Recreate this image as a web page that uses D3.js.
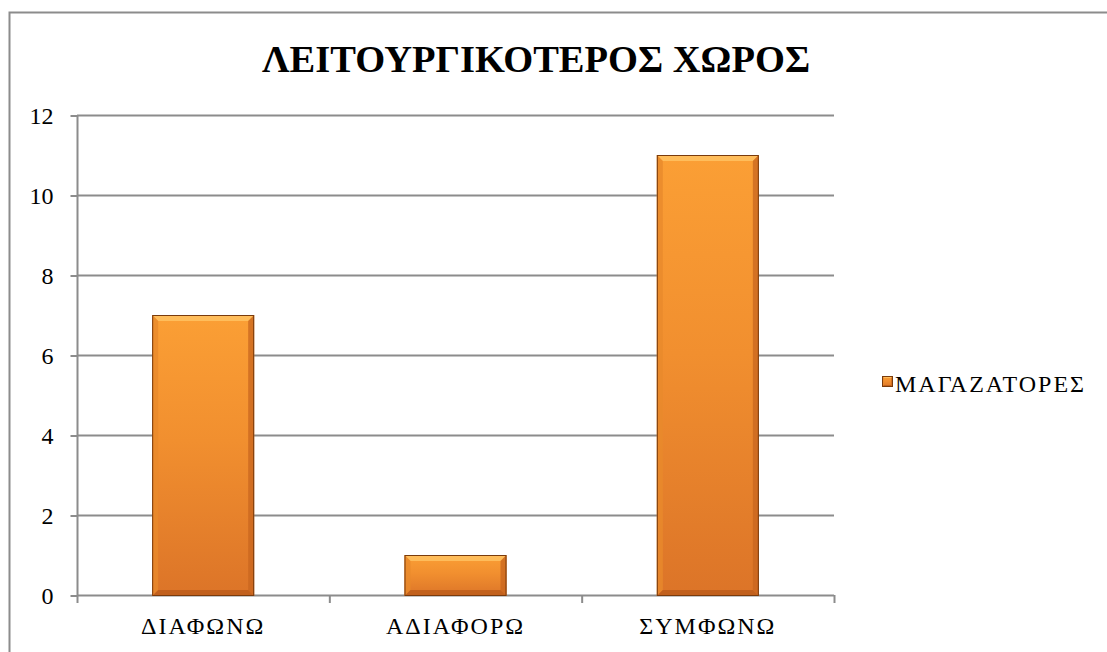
<!DOCTYPE html>
<html>
<head>
<meta charset="utf-8">
<script src="https://cdn.jsdelivr.net/npm/d3@7"></script>
<style>
  html, body { margin: 0; padding: 0; background: #fff; }
  svg { display: block; }
</style>
</head>
<body>
<svg id="chart" width="1107" height="652"></svg>
<script>
// Chart data
const categories = ["ΔΙΑΦΩΝΩ", "ΑΔΙΑΦΟΡΩ", "ΣΥΜΦΩΝΩ"];
const seriesName = "ΜΑΓΑΖΑΤΟΡΕΣ";
const seriesValues = [7, 1, 11];
const yTicks = [0, 2, 4, 6, 8, 10, 12];
const chartTitle = "ΛΕΙΤΟΥΡΓΙΚΟΤΕΡΟΣ ΧΩΡΟΣ";

const SERIF = "'Liberation Serif', 'Times New Roman', 'DejaVu Serif', serif";

const svg = d3.select("#chart");
const W = 1107, H = 652;

// Outer chart frame
svg.append("rect")
  .attr("x", 9.5).attr("y", 12.5)
  .attr("width", W + 20).attr("height", H + 20)
  .attr("fill", "#fff")
  .attr("stroke", "#8c8c8c").attr("stroke-width", 2);

// Plot area
const plot = { left: 77, right: 834, top: 115, bottom: 595 };

const xOuter = d3.scaleBand()
  .domain(categories)
  .range([plot.left, plot.right]);

const y = d3.scaleLinear().domain([0, 12]).range([plot.bottom, plot.top]);

// Gradient definitions
const defs = svg.append("defs");
const grad = defs.append("linearGradient")
  .attr("id", "barFill").attr("x1", 0).attr("y1", 0).attr("x2", 0).attr("y2", 1);
grad.append("stop").attr("offset", "0%").attr("stop-color", "#fb9f35");
grad.append("stop").attr("offset", "45%").attr("stop-color", "#f18f2f");
grad.append("stop").attr("offset", "100%").attr("stop-color", "#dc7428");

// Horizontal gridlines
svg.append("g")
  .selectAll("line")
  .data(yTicks.filter(d => d !== 0))
  .join("line")
  .attr("x1", plot.left).attr("x2", plot.right)
  .attr("y1", d => y(d) + 0.5).attr("y2", d => y(d) + 0.5)
  .attr("stroke", "#8c8c8c").attr("stroke-width", 2);

// Y axis
const yAxis = d3.axisLeft(y).tickValues(yTicks).tickSize(7).tickPadding(17).tickFormat(d3.format("d"));
const gy = svg.append("g").attr("transform", `translate(${plot.left + 0.5},0)`).call(yAxis);
gy.attr("font-family", null).attr("font-size", null);
gy.select(".domain").attr("stroke", "#8c8c8c").attr("stroke-width", 2).attr("d", `M0,${plot.top}V${plot.bottom}`);
gy.selectAll(".tick line").attr("stroke", "#8c8c8c").attr("stroke-width", 2).attr("transform", "translate(0,0.5)");
gy.selectAll(".tick text")
  .style("font-family", SERIF)
  .style("font-size", "24px")
  .attr("fill", "#000")
  .attr("dy", "0.35em");

// X axis line and category boundary ticks
svg.append("line")
  .attr("x1", plot.left).attr("x2", plot.right)
  .attr("y1", plot.bottom + 0.5).attr("y2", plot.bottom + 0.5)
  .attr("stroke", "#8c8c8c").attr("stroke-width", 2);

const boundaries = categories.map(c => xOuter(c)).concat([xOuter(categories[categories.length - 1]) + xOuter.bandwidth()]);
svg.append("g")
  .selectAll("line")
  .data(boundaries)
  .join("line")
  .attr("x1", d => d + 0.5).attr("x2", d => d + 0.5)
  .attr("y1", plot.bottom).attr("y2", plot.bottom + 8)
  .attr("stroke", "#8c8c8c").attr("stroke-width", 2);

// Category labels
svg.append("g")
  .selectAll("text")
  .data(categories)
  .join("text")
  .attr("x", d => xOuter(d) + xOuter.bandwidth() / 2)
  .attr("y", 634)
  .attr("text-anchor", "middle")
  .style("font-family", SERIF)
  .style("font-size", "24px")
  .style("letter-spacing", "2px")
  .attr("fill", "#000")
  .text(d => d);

// Bevelled bar drawing
function drawBevelBar(g, bx, by, bw, bh, bev) {
  g.append("rect")
    .attr("x", bx).attr("y", by).attr("width", bw).attr("height", bh)
    .attr("fill", "url(#barFill)");
  const bv = Math.min(bev, bh / 2, bw / 2);
  // top bevel (highlight)
  g.append("polygon")
    .attr("points", [[bx, by], [bx + bw, by], [bx + bw - bv, by + bv], [bx + bv, by + bv]].join(" "))
    .attr("fill", "#ffc262").attr("opacity", 0.85);
  // left bevel
  g.append("polygon")
    .attr("points", [[bx, by], [bx + bv, by + bv], [bx + bv, by + bh - bv], [bx, by + bh]].join(" "))
    .attr("fill", "#e98a2c").attr("opacity", 0.8);
  // right bevel (shadow)
  g.append("polygon")
    .attr("points", [[bx + bw, by], [bx + bw, by + bh], [bx + bw - bv, by + bh - bv], [bx + bw - bv, by + bv]].join(" "))
    .attr("fill", "#c8661f").attr("opacity", 0.75);
  // bottom bevel (shadow)
  g.append("polygon")
    .attr("points", [[bx, by + bh], [bx + bw, by + bh], [bx + bw - bv, by + bh - bv], [bx + bv, by + bh - bv]].join(" "))
    .attr("fill", "#b8591a").attr("opacity", 0.75);
  // dark outline
  g.append("rect")
    .attr("x", bx + 0.5).attr("y", by + 0.5).attr("width", bw - 1).attr("height", bh - 1)
    .attr("fill", "none").attr("stroke", "#7a3b0c").attr("stroke-width", 1);
}

const barW = 102;
const barsG = svg.append("g");
categories.forEach((c, i) => {
  const cx = xOuter(c) + xOuter.bandwidth() / 2;
  const top = y(seriesValues[i]);
  const g = barsG.append("g").attr("class", "bar");
  drawBevelBar(g, cx - barW / 2, top, barW, y(0) - top + 1, 6);
});

// Title
svg.append("text")
  .attr("x", 536).attr("y", 72)
  .attr("text-anchor", "middle")
  .style("font-family", SERIF)
  .style("font-size", "38.5px")
  .style("font-weight", "bold")
  .attr("fill", "#000")
  .text(chartTitle);

// Legend
const lg = svg.append("g");
drawBevelBar(lg, 882, 376, 11, 11, 2);
lg.append("text")
  .attr("x", 895).attr("y", 392)
  .style("font-family", SERIF)
  .style("font-size", "24px")
  .style("letter-spacing", "2px")
  .attr("fill", "#000")
  .text(seriesName);
</script>
</body>
</html>
